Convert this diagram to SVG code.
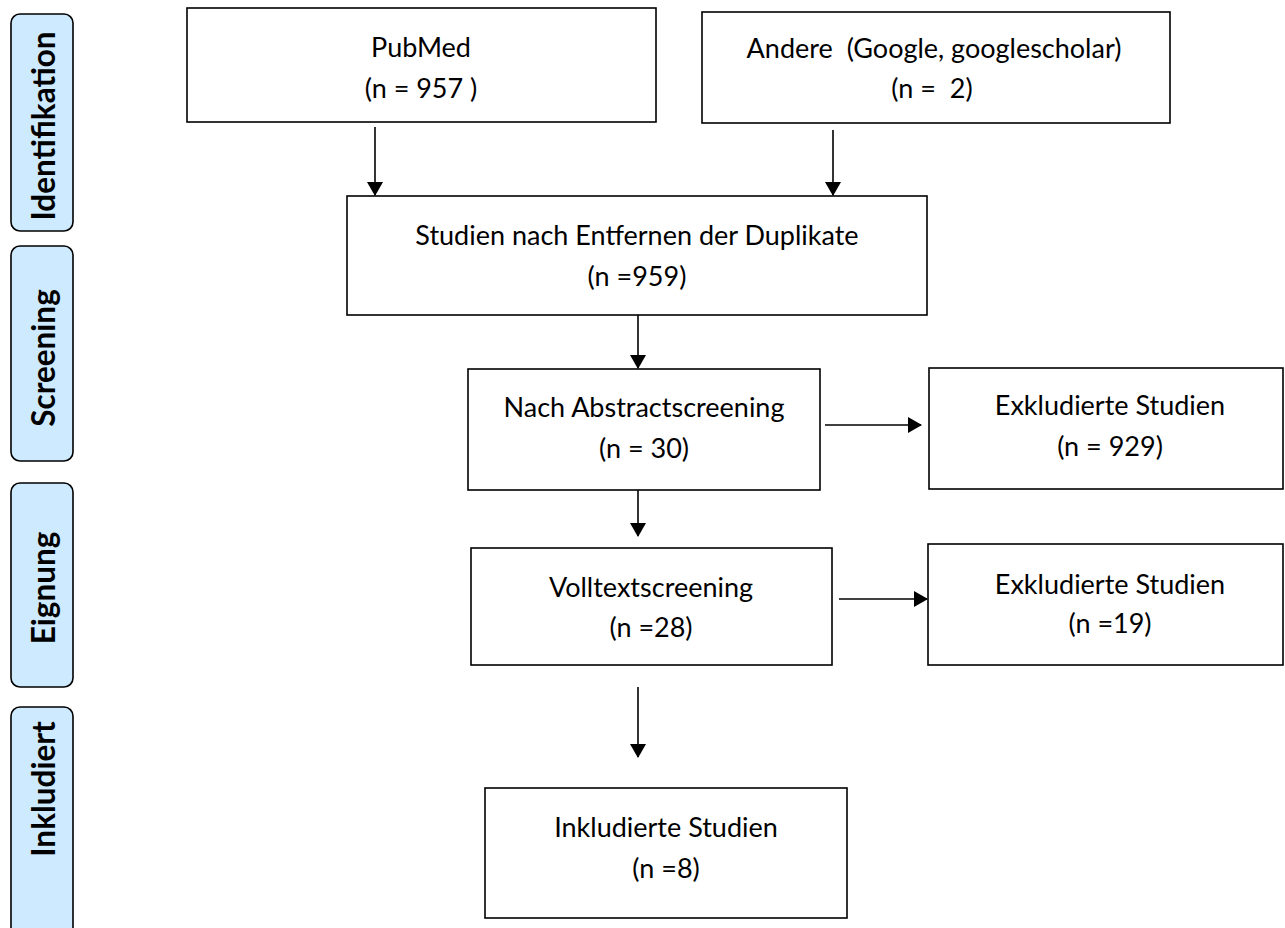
<svg xmlns="http://www.w3.org/2000/svg" width="1285" height="928" viewBox="0 0 1285 928">
<style>
.box{fill:#fff;stroke:#000;stroke-width:1.6}
.lab{fill:#cdeaff;stroke:#000;stroke-width:1.6}
.t{font-family:Lato,"Liberation Sans",sans-serif;font-size:27px;fill:#000;text-anchor:middle}
.lt{font-family:Lato,"Liberation Sans",sans-serif;font-size:31.5px;font-weight:bold;fill:#000;text-anchor:middle}
.c{stroke:#000;stroke-width:1.6;fill:none;marker-end:url(#ah)}
</style>
<defs>
<marker id="ah" viewBox="0 0 14 16" refX="13" refY="8" markerWidth="14" markerHeight="16" markerUnits="userSpaceOnUse" orient="auto">
<path d="M0,0 L14,8 L0,16 Z" fill="#000"/>
</marker>
</defs>
<rect width="1285" height="928" fill="#fff"/>
<g id="phase-identifikation"><rect class="lab" x="11" y="14" width="62" height="217" rx="9"/><text class="lt" transform="translate(55,126) rotate(-90)">Identifikation</text></g>
<g id="phase-screening"><rect class="lab" x="11" y="246" width="62" height="215" rx="9"/><text class="lt" transform="translate(55,358) rotate(-90)">Screening</text></g>
<g id="phase-eignung"><rect class="lab" x="11" y="483" width="62" height="204" rx="9"/><text class="lt" transform="translate(55,588) rotate(-90)">Eignung</text></g>
<g id="phase-inkludiert"><rect class="lab" x="11" y="707" width="62" height="240" rx="9"/><text class="lt" transform="translate(55,789) rotate(-90)">Inkludiert</text></g>

<g id="pubmed"><rect class="box" x="187" y="8" width="469" height="114"/><text class="t" x="421" y="57">PubMed</text><text class="t" x="421" y="98">(n = 957 )</text></g>
<g id="andere"><rect class="box" x="702" y="12" width="468" height="111"/><text class="t" x="934" y="58" xml:space="preserve">Andere  (Google, googlescholar)</text><text class="t" x="932" y="98" xml:space="preserve">(n =  2)</text></g>
<g id="duplikate"><rect class="box" x="347" y="196" width="580" height="119"/><text class="t" x="637" y="245">Studien nach Entfernen der Duplikate</text><text class="t" x="637" y="286">(n =959)</text></g>
<g id="abstract"><rect class="box" x="468" y="369" width="352" height="121"/><text class="t" x="644" y="417">Nach Abstractscreening</text><text class="t" x="644" y="458">(n = 30)</text></g>
<g id="exkl1"><rect class="box" x="929" y="368" width="354" height="121"/><text class="t" x="1110" y="415">Exkludierte Studien</text><text class="t" x="1110" y="456">(n = 929)</text></g>
<g id="volltext"><rect class="box" x="471" y="548" width="361" height="117"/><text class="t" x="651" y="597">Volltextscreening</text><text class="t" x="651" y="637">(n =28)</text></g>
<g id="exkl2"><rect class="box" x="928" y="544" width="355" height="121"/><text class="t" x="1110" y="594">Exkludierte Studien</text><text class="t" x="1110" y="633">(n =19)</text></g>
<g id="inkl"><rect class="box" x="485" y="788" width="362" height="130"/><text class="t" x="666" y="837">Inkludierte Studien</text><text class="t" x="666" y="878">(n =8)</text></g>

<g id="connectors">
<line class="c" x1="375" y1="127" x2="375" y2="195"/>
<line class="c" x1="833" y1="130" x2="833" y2="195"/>
<line class="c" x1="638" y1="315" x2="638" y2="368"/>
<line class="c" x1="638" y1="490" x2="638" y2="536"/>
<line class="c" x1="638" y1="687" x2="638" y2="757"/>
<line class="c" x1="825" y1="425" x2="921" y2="425"/>
<line class="c" x1="839" y1="599" x2="927" y2="599"/>
</g>
</svg>
